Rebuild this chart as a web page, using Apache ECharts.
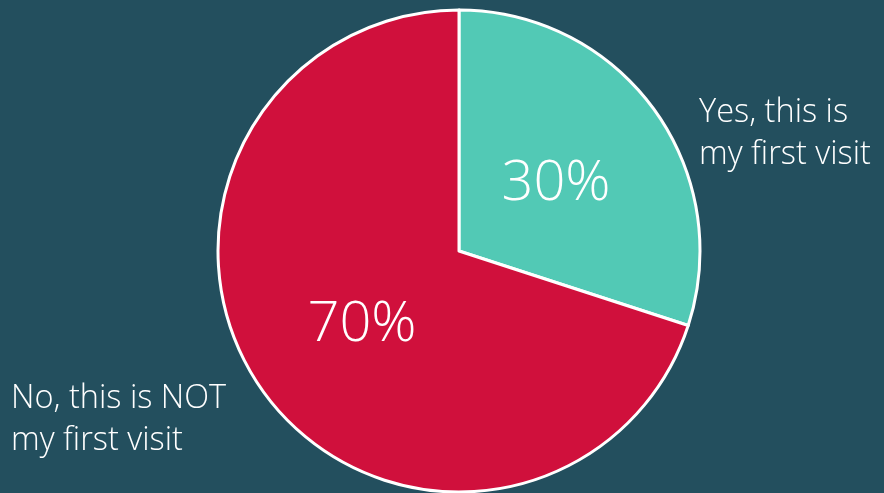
<!DOCTYPE html>
<html>
<head>
<meta charset="utf-8">
<script src="https://cdn.jsdelivr.net/npm/echarts@6/dist/echarts.min.js"></script>
<style>
  html, body { margin: 0; padding: 0; background: #234f5e; }
  #chart { width: 884px; height: 493px; }
</style>
</head>
<body>
<div id="chart"></div>
<script>
const categories = ['Yes, this is\nmy first visit', 'No, this is NOT\nmy first visit']
const values = [30, 70]
const colors = ['#52c9b5', '#d0103c']

// where the text goes (px)
const innerPos = [[556, 184], [362, 325]]
const outerPos = [[699, 134], [11, 420]]

const data = categories.map((name, i) => ({
  name,
  value: values[i],
  itemStyle: { color: colors[i] }
}))

const chart = echarts.init(document.getElementById('chart'))
chart.setOption({
  backgroundColor: '#234f5e',
  animation: false,
  series: [
    {
      type: 'pie',
      center: [459, 251],
      radius: 241,
      startAngle: 90,
      clockwise: true,
      itemStyle: { borderColor: '#ffffff', borderWidth: 3 },
      label: {
        position: 'inside',
        formatter: '{d}%',
        color: '#ffffff',
        fontSize: 56,
        fontWeight: 300,
        fontFamily: 'Open Sans'
      },
      labelLayout: (p) => ({
        x: innerPos[p.dataIndex][0],
        y: innerPos[p.dataIndex][1],
        align: 'center',
        verticalAlign: 'middle'
      }),
      emphasis: { disabled: true },
      data
    },
    {
      // same slices, invisible, just for the outside category labels
      type: 'pie',
      center: [459, 251],
      radius: 241,
      startAngle: 90,
      silent: true,
      itemStyle: { color: 'rgba(0,0,0,0)' },
      label: {
        position: 'outside',
        formatter: '{b}',
        color: '#ffffff',
        fontSize: 32.5,
        fontWeight: 300,
        lineHeight: 42,
        fontFamily: 'Open Sans',
        align: 'left',
        width: 300,
        overflow: 'none'
      },
      labelLine: { show: false },
      labelLayout: (p) => ({
        x: outerPos[p.dataIndex][0],
        y: outerPos[p.dataIndex][1],
        align: 'left',
        verticalAlign: 'middle'
      }),
      data: categories.map((name, i) => ({ name, value: values[i] }))
    }
  ]
})
</script>
</body>
</html>
